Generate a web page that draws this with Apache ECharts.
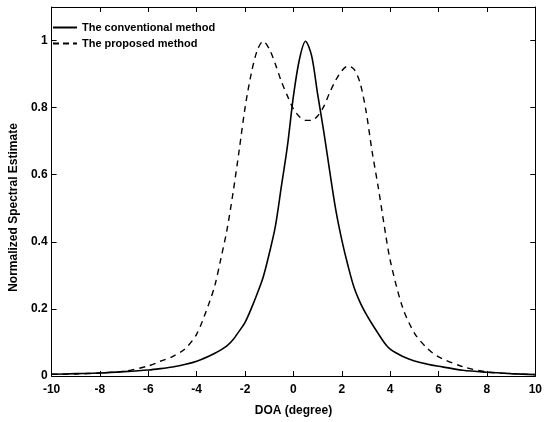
<!DOCTYPE html>
<html>
<head>
<meta charset="utf-8">
<script src="https://cdn.jsdelivr.net/npm/echarts@6/dist/echarts.min.js"></script>
<style>html,body{margin:0;padding:0;background:#fff}#c{width:545px;height:422px}</style>
</head>
<body>
<div id="c"></div>
<script>
// DOA grid (degree)
const doa = [-10,-9,-8,-7,-6,-5.5,-5,-4.5,-4,-3.5,-3.25,-3,-2.75,-2.5,-2.25,-2,-1.75,-1.5,-1.25,-1,-0.75,-0.5,-0.25,0,0.25,0.5,0.75,1,1.25,1.5,1.75,2,2.25,2.5,2.75,3,3.25,3.5,3.75,4,4.5,5,5.5,6,7,8,9,10];
// The conventional method
const conventional = [0.005,0.007,0.009,0.013,0.018,0.022,0.027,0.034,0.044,0.059,0.068,0.078,0.090,0.108,0.133,0.160,0.200,0.245,0.295,0.365,0.445,0.565,0.685,0.835,0.945,0.998,0.955,0.840,0.730,0.610,0.495,0.405,0.330,0.265,0.220,0.185,0.155,0.127,0.100,0.080,0.059,0.045,0.036,0.029,0.017,0.011,0.007,0.004];
// The proposed method
const proposed = [0.005,0.006,0.009,0.014,0.030,0.044,0.058,0.080,0.125,0.215,0.270,0.350,0.435,0.545,0.670,0.800,0.900,0.970,0.998,0.975,0.930,0.878,0.835,0.796,0.773,0.762,0.762,0.775,0.803,0.845,0.882,0.910,0.924,0.915,0.875,0.790,0.670,0.565,0.450,0.345,0.207,0.128,0.085,0.057,0.028,0.012,0.007,0.004];
const xTicks = [-10,-8,-6,-4,-2,0,2,4,6,8,10];
const yTicks = [0,0.2,0.4,0.6,0.8,1];

const font = '"Liberation Sans", Arial, sans-serif';
const chart = echarts.init(document.getElementById('c'), null, {renderer:'canvas'});
const axLine = {show:true, onZero:false, lineStyle:{color:'#000', width:1}};
const tick = {show:true, inside:true, length:5, lineStyle:{color:'#000', width:1}};
chart.setOption({
  animation:false,
  backgroundColor:'#fff',
  grid:{left:42, right:8, top:7, bottom:39},
  legend:{
    left:48, top:17, orient:'vertical', itemGap:5, itemWidth:24, itemHeight:2,
    textStyle:{fontFamily:font, fontSize:11, fontWeight:'bold', color:'#000'},
    data:[
      {name:'The conventional method', icon:'path://M0,0h24v2h-24z'},
      {name:'The proposed method', icon:'path://M0,0h6v2h-6zM10,0h6v2h-6zM20,0h4v2h-4z'}
    ]
  },
  xAxis:[{
    type:'value', min:xTicks[0], max:xTicks[xTicks.length-1], interval:2,
    name:'DOA (degree)', nameLocation:'middle', nameGap:29,
    nameTextStyle:{fontFamily:font, fontSize:12, fontWeight:'bold', color:'#000'},
    axisLine:axLine, axisTick:tick, splitLine:{show:false},
    axisLabel:{fontFamily:font, fontSize:12, fontWeight:'bold', color:'#000', margin:8}
  },{
    type:'value', position:'top', min:xTicks[0], max:xTicks[xTicks.length-1], interval:2,
    axisLine:axLine, axisTick:tick, axisLabel:{show:false}, splitLine:{show:false}
  }],
  yAxis:[{
    type:'value', min:0, max:1.1, interval:0.2,
    name:'Normalized Spectral Estimate', nameLocation:'middle', nameGap:28,
    nameTextStyle:{fontFamily:font, fontSize:12, fontWeight:'bold', color:'#000', padding:[0,32,0,0]},
    axisLine:axLine, axisTick:tick, splitLine:{show:false},
    axisLabel:{fontFamily:font, fontSize:12, fontWeight:'bold', color:'#000', margin:4, showMaxLabel:false,
      formatter:v => yTicks.some(t=>Math.abs(t-v)<1e-6) ? String(+v.toFixed(1)) : ''}
  },{
    type:'value', position:'right', min:0, max:1.1, interval:0.2,
    axisLine:axLine, axisTick:tick, axisLabel:{show:false}, splitLine:{show:false}
  }],
  series:[{
    name:'The conventional method', type:'line', smooth:0.3, symbol:'none',
    data:doa.map((x,i)=>[x, conventional[i]]),
    lineStyle:{color:'#000', width:1.6, type:'solid'}, itemStyle:{color:'#000'}
  },{
    name:'The proposed method', type:'line', smooth:0.3, symbol:'none',
    data:doa.map((x,i)=>[x, proposed[i]]),
    lineStyle:{color:'#000', width:1.4, type:[6,5]}, itemStyle:{color:'#000'}
  }]
});
</script>
</body>
</html>
